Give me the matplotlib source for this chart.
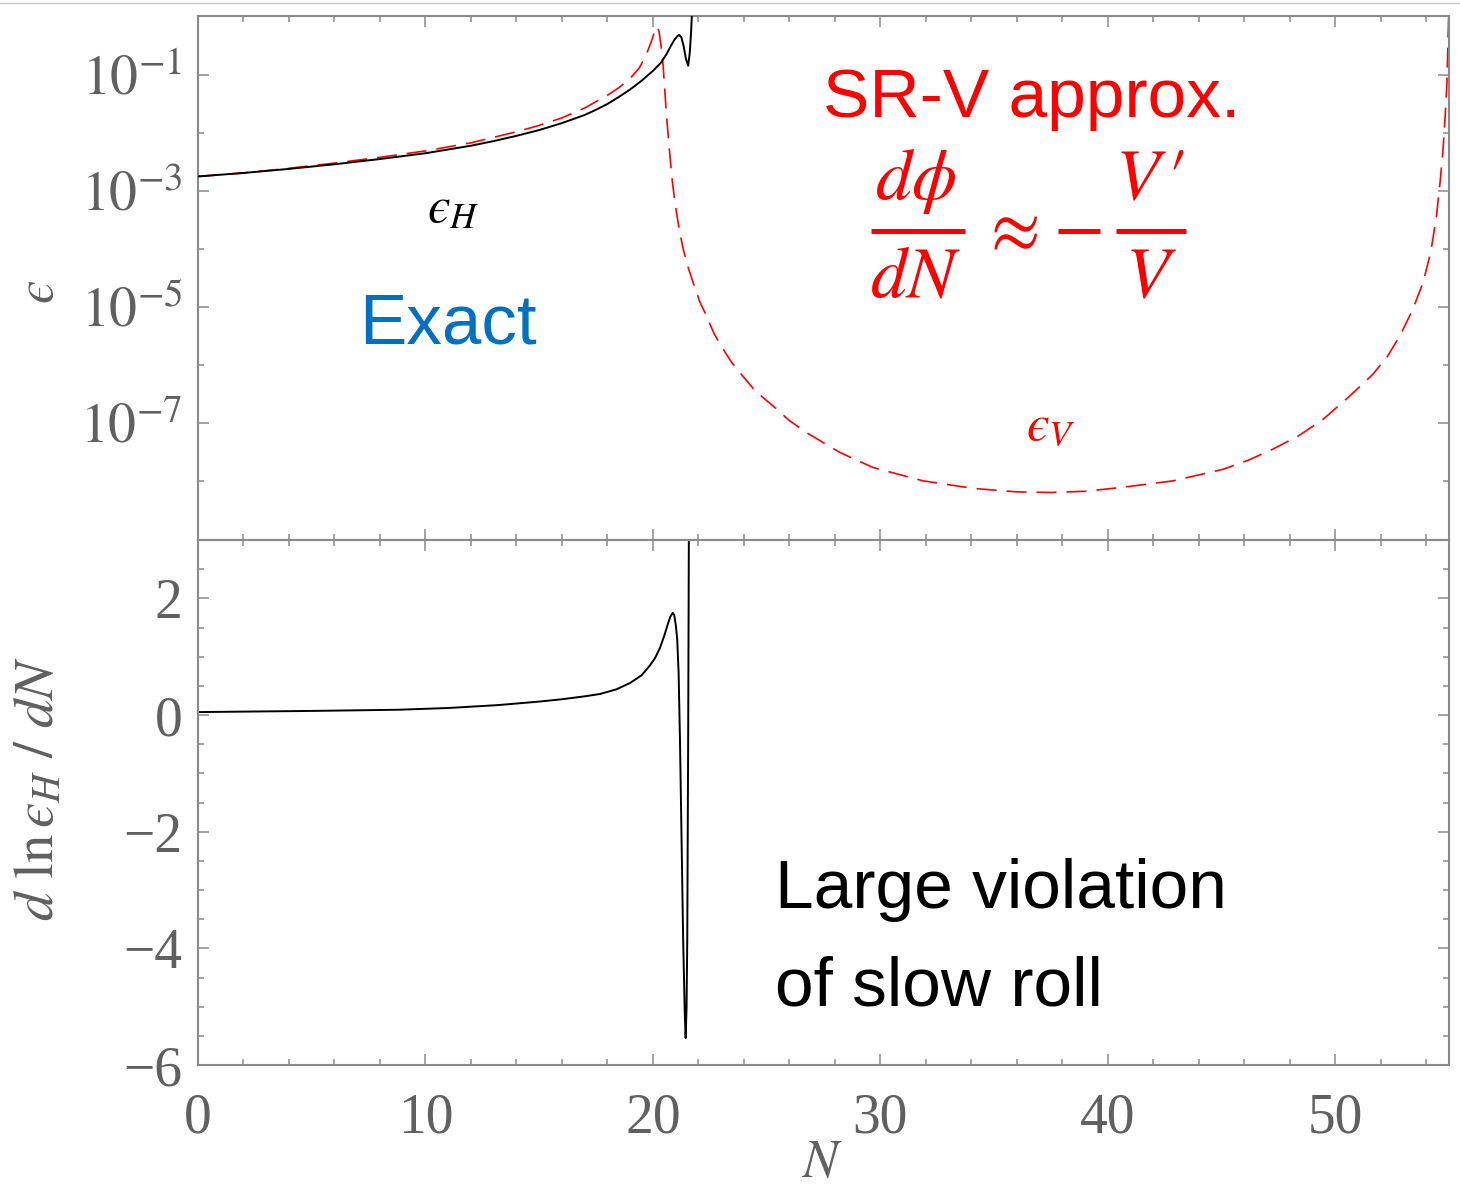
import matplotlib
matplotlib.use("Agg")
import matplotlib.pyplot as plt
import numpy as np
from matplotlib.lines import Line2D
from matplotlib.ticker import FixedLocator

plt.rcParams['mathtext.fontset'] = 'stix'
plt.rcParams['font.family'] = ['Liberation Serif', 'DejaVu Serif']

# ---------------- data ----------------
# exact epsilon_H : N and log10(eps_H)
N_H = [0, 2, 4, 6, 8, 10, 12, 13, 14, 15, 16, 17, 17.5, 18, 18.5, 19, 19.5, 20, 20.35,
       20.6, 20.8, 20.95, 21.08, 21.16, 21.25, 21.35, 21.45, 21.55, 21.62, 21.68, 21.72, 21.76]
logeps_H = [-2.75, -2.69, -2.62, -2.54, -2.45, -2.35, -2.22, -2.14, -2.05, -1.95, -1.83,
            -1.69, -1.60, -1.50, -1.38, -1.25, -1.10, -0.93, -0.79, -0.64, -0.49, -0.39,
            -0.33, -0.31, -0.35, -0.50, -0.72, -0.84, -0.62, -0.25, 0.1, 0.5]

# slow-roll potential approximation epsilon_V
N_V = [0, 2, 4, 6, 8, 10, 12, 14, 15, 16, 17, 18, 18.5, 19, 19.4, 19.7, 19.95, 20.1, 20.19,
       20.27, 20.36, 20.45, 20.52, 20.6, 20.68, 20.75, 20.85, 20.97, 21.15, 21.33, 21.55,
       21.77, 22.05, 22.36, 22.7, 23.09, 23.45, 23.82, 24.5, 25.29, 26.0, 26.76, 28.22,
       29.68, 31.88, 34.08, 36.0, 37.5, 39.0, 40.67, 42.87, 45.07, 46.2, 47.27, 48.4, 49.46,
       50.6, 51.66, 52.3, 52.84, 53.4, 53.86, 54.2, 54.45, 54.62, 54.74, 54.84, 54.91,
       54.96, 55.0]
logeps_V = [-2.75, -2.69, -2.61, -2.52, -2.42, -2.31, -2.17, -1.98, -1.87, -1.74, -1.57,
            -1.35, -1.22, -1.06, -0.88, -0.66, -0.40, -0.22, -0.17, -0.25, -0.50, -0.84,
            -1.25, -1.71, -2.08, -2.40, -2.82, -3.20, -3.65, -4.00, -4.32, -4.58, -4.90,
            -5.16, -5.47, -5.73, -5.95, -6.13, -6.45, -6.71, -6.96, -7.17, -7.51, -7.77,
            -8.00, -8.13, -8.19, -8.20, -8.18, -8.11, -8.00, -7.80, -7.64, -7.45, -7.22,
            -6.94, -6.55, -6.16, -5.85, -5.50, -5.05, -4.58, -4.05, -3.43, -2.80, -2.28,
            -1.65, -1.13, -0.33, 0.2]

# d ln eps_H / dN
N_d = [0, 5, 8.8, 11, 13.2, 15, 16, 17, 17.67, 18.4, 19.0, 19.5, 19.87, 20.1, 20.31,
       20.5, 20.65, 20.77, 20.87, 20.94, 21.01, 21.07, 21.13, 21.19, 21.26, 21.33, 21.40,
       21.44, 21.48, 21.51, 21.55, 21.58, 21.60]
dlneps = [0.05, 0.07, 0.09, 0.12, 0.17, 0.23, 0.27, 0.32, 0.36, 0.44, 0.55, 0.68, 0.85,
          0.98, 1.15, 1.36, 1.55, 1.69, 1.75, 1.71, 1.53, 1.29, 0.72, -0.43, -2.14, -3.86,
          -5.1, -5.54, -5.0, -3.86, -0.43, 3.0, 3.6]

x_major = [0, 10, 20, 30, 40, 50]
x_labels = ['0', '10', '20', '30', '40', '50']
top_major = [1e-1, 1e-3, 1e-5, 1e-7]
top_labels = [r'$10^{-1}$', r'$10^{-3}$', r'$10^{-5}$', r'$10^{-7}$']
top_minor = [1e-2, 1e-4, 1e-6, 1e-8]
bot_major = [-6, -4, -2, 0, 2]
bot_labels = ['\u22126', '\u22124', '\u22122', '0', '2']

# ---------------- figure ----------------
W, H = 1460, 1193
fig = plt.figure(figsize=(W / 100, H / 100), dpi=100)

def fx(x):
    return x / W

def fy(y):
    return 1 - y / H

ax1 = fig.add_axes([fx(198), fy(540), fx(1449) - fx(198), fy(16) - fy(540)])
ax2 = fig.add_axes([fx(198), fy(1065), fx(1449) - fx(198), fy(540) - fy(1065)])

frame_c = '#8a8a8a'
lab_c = '#606060'

ax1.plot(N_H, 10 ** np.array(logeps_H), color='black', lw=1.4, zorder=3)
ax1.plot(N_V, 10 ** np.array(logeps_V), color='red', lw=1.2, dashes=(12, 6), zorder=2)
ax1.set_yscale('log')
ax1.set_ylim(10 ** -9.02, 10 ** 0.017)
ax1.set_xlim(0, 55)

ax2.plot(N_d, dlneps, color='black', lw=1.4)
ax2.set_ylim(-6, 3)
ax2.set_xlim(0, 55)

for ax in (ax1, ax2):
    for s in ax.spines.values():
        s.set_color(frame_c)
        s.set_linewidth(1.5)
    ax.xaxis.set_major_locator(FixedLocator(x_major))
    ax.xaxis.set_minor_locator(FixedLocator([v for v in range(0, 56, 2) if v % 10]))
    ax.tick_params(which='both', direction='in', top=True, right=True, color=frame_c,
                   width=1.1, labelcolor=lab_c, labelsize=40, pad=11)
    ax.tick_params(which='major', length=8)
    ax.tick_params(which='minor', length=4)

ax1.set_yticks(top_major)
ax1.set_yticklabels(top_labels)
ax1.yaxis.set_minor_locator(FixedLocator(top_minor))
ax1.yaxis.set_minor_formatter(plt.NullFormatter())
ax1.tick_params(axis='x', labelbottom=False)

ax2.set_yticks(bot_major)
ax2.set_yticklabels(bot_labels)
ax2.yaxis.set_minor_locator(FixedLocator([v / 2 for v in range(-12, 7) if v % 4]))
ax2.set_xticks(x_major)
ax2.set_xticklabels(x_labels)
ax2.tick_params(axis='x', pad=20)

# axis labels
fig.text(fx(40), fy(292), '$\u03f5$', rotation=90, color=lab_c, fontsize=38,
         ha='center', va='center')
fig.text(fx(40), fy(788), '$d\\ \\mathrm{ln}\\,\u03f5_H\\ /\\ dN$', rotation=90, color=lab_c,
         fontsize=41, ha='center', va='center')
fig.text(fx(822), fy(1188), r'$N$', color=lab_c, fontsize=38, ha='center', va='bottom')

# annotations
fig.text(fx(453), fy(210), '$\u03f5_H$', color='black', fontsize=37, ha='center', va='center')
fig.text(fx(1051), fy(428), '$\u03f5_V$', color='red', fontsize=37, ha='center', va='center')
fig.text(fx(359), fy(344), 'Exact', color='#0070C0', fontsize=51,
         family='Liberation Sans', ha='left', va='baseline')
fig.text(fx(823), fy(117), 'SR-V approx.', color='red', fontsize=50,
         family='Liberation Sans', ha='left', va='baseline')
fig.text(fx(775), fy(908), 'Large violation', color='black', fontsize=50,
         family='Liberation Sans', ha='left', va='baseline')
fig.text(fx(775), fy(1005), 'of slow roll', color='black', fontsize=50,
         family='Liberation Sans', ha='left', va='baseline')

# formula  d(phi)/dN  ~  - V'/V
fs = 52
fig.text(fx(916), fy(199), r'$d\phi$', color='red', fontsize=fs, ha='center', va='baseline')
fig.text(fx(915), fy(297), r'$dN$', color='red', fontsize=fs, ha='center', va='baseline')
fig.text(fx(1009), fy(232), r'$\approx$', color='red', fontsize=fs, ha='center', va='center')
fig.text(fx(1150), fy(199), r'$V\,\prime$', color='red', fontsize=fs, ha='center', va='baseline')
fig.text(fx(1151), fy(297), r'$V$', color='red', fontsize=fs, ha='center', va='baseline')
for (x0, x1) in [(871, 965), (1058, 1100), (1116, 1186)]:
    fig.add_artist(Line2D([fx(x0), fx(x1)], [fy(231), fy(231)], color='red', lw=3.6,
                          transform=fig.transFigure, solid_capstyle='butt'))

# thin grey line at the very top of the picture
fig.add_artist(Line2D([0, 1], [fy(3), fy(3)], color='#c8c8c8', lw=1.0,
                      transform=fig.transFigure))

fig.savefig('out.png', dpi=100)
